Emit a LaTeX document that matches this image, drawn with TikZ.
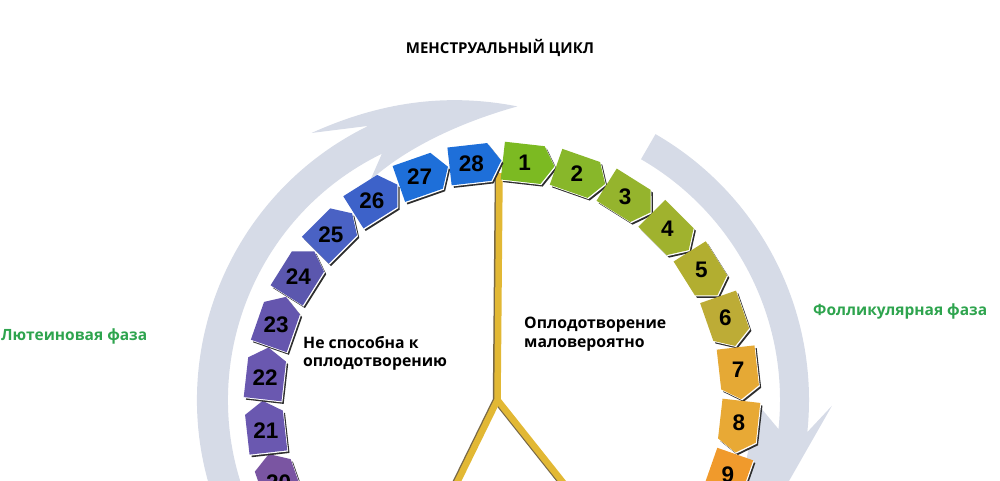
\documentclass[tikz,border=0pt]{standalone}
\usepackage{fontspec}
\setmainfont{Open Sans}
\newfontfamily\numfont{Liberation Sans}
\definecolor{arcgray}{RGB}{214,219,231}
\definecolor{phasegreen}{RGB}{46,164,78}
\definecolor{gold}{RGB}{226,184,52}
\definecolor{golddark}{RGB}{120,104,70}
\definecolor{chipshadow}{RGB}{45,45,45}
\definecolor{c1}{HTML}{7CBA22}
\definecolor{c2}{HTML}{88B72A}
\definecolor{c3}{HTML}{95B42D}
\definecolor{c4}{HTML}{A0B22E}
\definecolor{c5}{HTML}{B2AE30}
\definecolor{c6}{HTML}{BDAC36}
\definecolor{c7}{HTML}{E5A935}
\definecolor{c8}{HTML}{E8A935}
\definecolor{c9}{HTML}{F09A2C}
\definecolor{c20}{HTML}{7A55A2}
\definecolor{c21}{HTML}{6A58B0}
\definecolor{c22}{HTML}{6A58B0}
\definecolor{c23}{HTML}{6556AE}
\definecolor{c24}{HTML}{5B57AE}
\definecolor{c25}{HTML}{4A62C4}
\definecolor{c26}{HTML}{3D62C9}
\definecolor{c27}{HTML}{1E6FD9}
\definecolor{c28}{HTML}{1E6FD9}
\tikzset{
  numlabel/.style={font=\numfont\bfseries\fontsize{22.5}{22.5}\selectfont, text=black, inner sep=0pt},
  phaselabel/.style={font=\bfseries\fontsize{15.5}{18}\selectfont, text=phasegreen, inner sep=0pt},
  notelabel/.style={font=\bfseries\fontsize{15.8}{18.5}\selectfont, text=black, align=left, inner sep=0pt},
  titlelabel/.style={font=\bfseries\fontsize{15}{17}\selectfont, text=black, inner sep=0pt},
  goldline/.style={line width=6.5pt, draw=gold, line join=round},
  goldshade/.style={line width=6.5pt, draw=golddark, line join=round}
}
\newcommand{\chippath}{(-26,-19) -- (14,-19) -- (26,0) -- (14,19) -- (-26,19) -- cycle}
\begin{document}
\begin{tikzpicture}[x=1pt,y=1pt]
\useasboundingbox (0,0) rectangle (1000,480);
\clip (0,0) rectangle (1000,480);
% big gray phase arrows
\begin{scope}[shift={(502,80)}]
  \fill[arcgray] (205:305) arc[start angle=205, end angle=116, radius=305]
     -- (125.5:328) .. controls (112:322) and (100:312) .. (87:294)
     .. controls (100:280) and (112:268) .. (121:256)
     -- (116:274) arc[start angle=116, end angle=205, radius=274] -- cycle;
  \fill[arcgray] (60:278) -- (60:307) arc[start angle=60, end angle=-6, radius=307]
     -- (-1:330) -- (-45:300) -- (-1:256) -- (-6:278)
     arc[start angle=-6, end angle=60, radius=278] -- cycle;
\end{scope}
% gold Y
\coordinate (ytop) at (499.5,307);
\coordinate (yfork) at (497.5,80);
\coordinate (yleft) at (451,-15);
\coordinate (yright) at (573,-15);
\draw[goldshade] ([xshift=-1.5pt]ytop) -- ([xshift=-1.5pt]yfork) -- ([xshift=-1.5pt]yleft);
\draw[goldshade] ([xshift=-1.5pt]yfork) -- ([xshift=-1.5pt]yright);
\draw[goldline] (ytop) -- (yfork) -- (yleft);
\draw[goldline] (yfork) -- (yright);
% chips
\foreach \k in {1,...,9,20,21,...,28}{
  \pgfmathsetmacro{\ang}{90-(\k-0.5)*360/28}
  \pgfmathsetmacro{\cx}{502+238*cos(\ang)}
  \pgfmathsetmacro{\cy}{80+238*sin(\ang)}
  \begin{scope}[shift={(\cx+2.2,\cy-2.6)}, rotate=\ang-90]
    \fill[chipshadow] \chippath;
  \end{scope}
  \begin{scope}[shift={(\cx+0.9,\cy-1.1)}, rotate=\ang-90]
    \fill[white] \chippath;
  \end{scope}
  \begin{scope}[shift={(\cx,\cy)}, rotate=\ang-90]
    \fill[c\k] \chippath;
    \node[numlabel] (n\k) at (-4,0) {\k};
  \end{scope}
}
% texts
\node[titlelabel] (title) at (500,432) {МЕНСТРУАЛЬНЫЙ ЦИКЛ};
\node[phaselabel, anchor=west] (luteal) at (1,144) {Лютеиновая фаза};
\node[phaselabel, anchor=west] (follic) at (813,169) {Фолликулярная фаза};
\node[notelabel, anchor=north west] (nofert) at (303,144) {Не способна к\\оплодотворению};
\node[notelabel, anchor=north west] (lowfert) at (524,163) {Оплодотворение\\маловероятно};
\end{tikzpicture}
\end{document}
